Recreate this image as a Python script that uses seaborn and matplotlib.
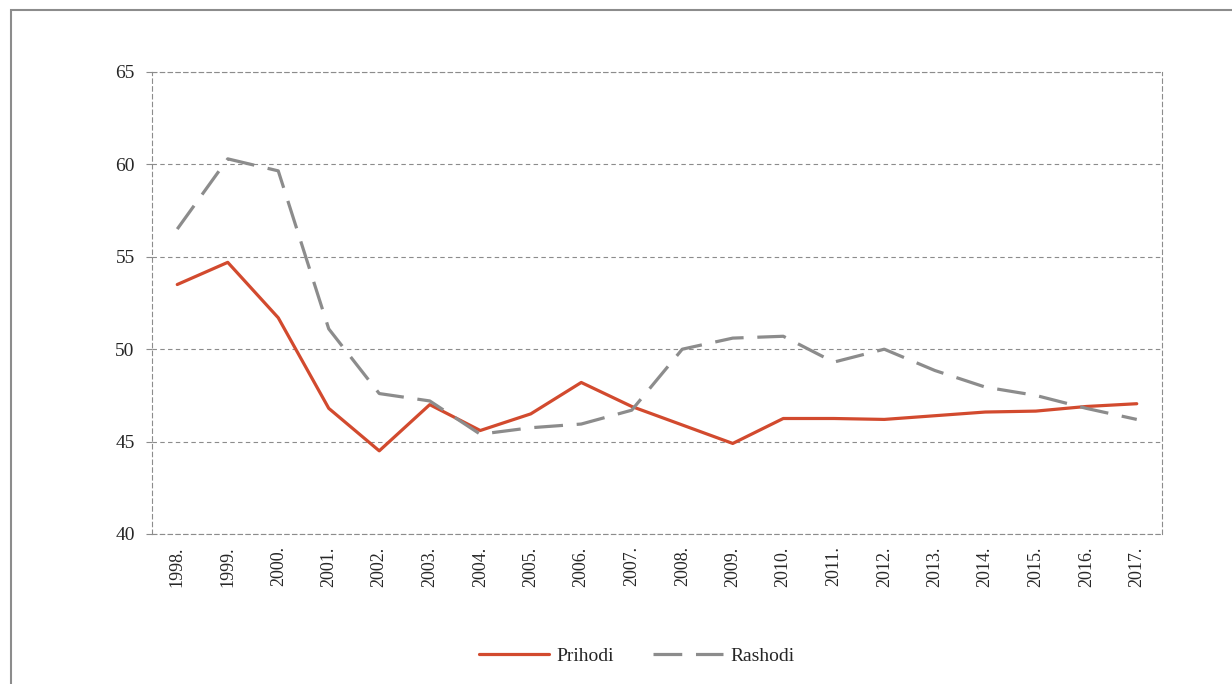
import matplotlib
matplotlib.use("Agg")
import matplotlib.pyplot as plt
import seaborn as sns
import pandas as pd
from matplotlib.patches import Rectangle

years = ["1998.", "1999.", "2000.", "2001.", "2002.", "2003.", "2004.", "2005.", "2006.", "2007.",
         "2008.", "2009.", "2010.", "2011.", "2012.", "2013.", "2014.", "2015.", "2016.", "2017."]
prihodi = [53.5, 54.7, 51.7, 46.8, 44.5, 47.0, 45.6, 46.5, 48.2, 46.9,
           45.9, 44.9, 46.25, 46.25, 46.2, 46.4, 46.6, 46.65, 46.9, 47.05]
rashodi = [56.5, 60.3, 59.65, 51.1, 47.6, 47.2, 45.4, 45.75, 45.95, 46.7,
           50.0, 50.6, 50.7, 49.3, 50.0, 48.85, 47.95, 47.5, 46.8, 46.2]
series_names = ["Prihodi", "Rashodi"]
yticks = [40, 45, 50, 55, 60, 65]

sns.set_theme(style="white")
plt.rcParams['font.family'] = ['Liberation Serif', 'DejaVu Serif']

df = pd.DataFrame({
    "year": years * 2,
    "value": prihodi + rashodi,
    "series": [series_names[0]] * len(years) + [series_names[1]] * len(years),
})
df["x"] = list(range(len(years))) * 2

fig = plt.figure(figsize=(12.32, 6.84), dpi=100)
ax = fig.add_axes([152/1232, 1 - 534/684, (1162-152)/1232, (534-72)/684])

palette = {"Prihodi": "#D24A2E", "Rashodi": "#8C8C8C"}
dashes = {"Prihodi": "", "Rashodi": (9, 4.3)}
sns.lineplot(data=df, x="x", y="value", hue="series", style="series",
             palette=palette, dashes=dashes, linewidth=2.3, ax=ax, legend=True,
             sort=False)

ax.set_xlim(-0.5, len(years) - 0.5)
ax.set_ylim(40, 65)
ax.set_yticks(yticks)
ax.set_yticklabels([str(t) for t in yticks], fontsize=14)
ax.set_xticks(range(len(years)))
ax.set_xticklabels(years, rotation=90, fontsize=13)
ax.set_xticks([i - 0.5 for i in range(len(years) + 1)], minor=True)
ax.tick_params(axis="x", which="major", length=0, pad=9)
ax.tick_params(axis="x", which="minor", length=4.5, width=0.8, color="#8C8C8C", direction="out")
ax.tick_params(axis="y", which="major", length=4.5, width=0.8, color="#8C8C8C", direction="out", left=True, pad=8)
ax.set_xlabel("")
ax.set_ylabel("")

ax.yaxis.grid(True, color="#8C8C8C", linestyle=(0, (4, 3)), linewidth=0.8)
ax.xaxis.grid(False)
ax.set_axisbelow(True)
for side in ["left", "right", "bottom", "top"]:
    sp = ax.spines[side]
    sp.set_visible(True)
    sp.set_color("#8C8C8C")
    sp.set_linewidth(0.8)
    sp.set_linestyle((0, (4, 3)))

handles, labels = ax.get_legend_handles_labels()
ax.legend_.remove()
fig.legend(handles, labels, loc="center", bbox_to_anchor=(0.517, 1 - 656/684), ncol=2,
           frameon=False, fontsize=14, handlelength=3.6, columnspacing=2.0, handletextpad=0.4)

fig.patches.append(Rectangle((11/1232, -0.1), 1.2, 1 - 10.5/684 + 0.1, transform=fig.transFigure,
                             fill=False, edgecolor="#8C8C8C", linewidth=1.5, figure=fig))

fig.savefig("out.png", dpi=100)
